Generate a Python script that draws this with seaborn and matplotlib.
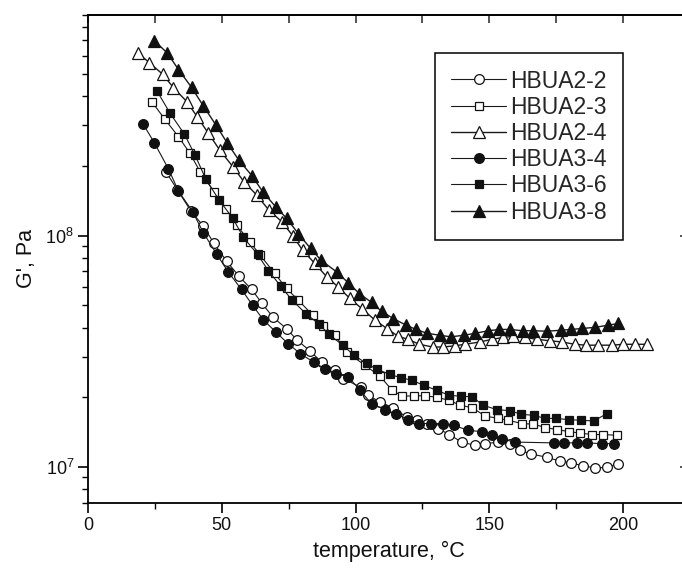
import matplotlib
matplotlib.use("Agg")
import matplotlib.pyplot as plt
from matplotlib.ticker import MultipleLocator, LogLocator, NullFormatter
import numpy as np
import pandas as pd
import seaborn as sns

# temperature (C) and storage modulus G' (Pa, in units of 1e6) per sample
x_hbua2_2 = [29.1, 33.4, 38.4, 43.1, 47.1, 51.8, 56.4, 61.2, 64.9, 69.2, 74.2, 78.2,
             83.0, 87.3, 92.3, 95.4, 101.9, 104.7, 109.1, 114.1, 119.1, 122.9, 126.6,
             131.0, 135.1, 139.6, 144.6, 148.4, 153.4, 157.6, 161.4, 165.4, 171.4,
             176.4, 180.7, 185.1, 189.5, 193.9, 198.2]
g_hbua2_2 = [189, 158, 128, 110, 92.5, 77.6, 66.8, 58.5, 51.2, 44.3, 39.6, 35.3,
             31.7, 28.4, 26.2, 24.1, 22.1, 20.4, 19.1, 18.0, 16.4, 15.9, 15.4,
             14.6, 13.8, 12.8, 12.4, 12.6, 12.8, 12.6, 11.8, 11.4, 11.0,
             10.6, 10.4, 10.1, 9.9, 9.95, 10.3]

x_hbua2_3 = [23.8, 28.8, 33.8, 38.1, 41.9, 47.1, 51.6, 55.6, 60.5, 64.3, 69.8, 74.2,
             78.6, 84.0, 87.9, 92.3, 96.7, 103.5, 109.1, 113.6, 117.5, 121.7, 126.0,
             130.3, 135.0, 139.0, 143.7, 148.4, 153.4, 157.1, 162.1, 166.5, 170.9,
             175.2, 179.9, 183.9, 188.3, 192.6, 197.6]
g_hbua2_3 = [380, 318, 268, 227, 189, 155, 131, 111, 94, 82.5, 68.6, 59.1,
             52.6, 45.3, 40.6, 37.1, 31.4, 27.5, 24.7, 21.5, 20.2, 20.3, 20.3,
             20.0, 19.4, 18.5, 18.0, 16.6, 16.2, 15.9, 15.4, 15.3, 14.8,
             14.5, 14.2, 14.0, 13.8, 13.8, 13.7]

x_hbua2_4 = [18.8, 22.9, 27.9, 31.9, 36.9, 40.8, 45.0, 49.3, 54.1, 58.3, 63.0, 67.6,
             72.4, 76.5, 80.2, 84.8, 89.2, 93.5, 97.9, 102.3, 107.3, 111.8, 115.9,
             119.7, 123.8, 128.8, 132.8, 137.1, 140.9, 146.5, 150.9, 155.2, 159.0,
             163.3, 167.9, 172.7, 177.0, 182.0, 186.1, 190.7, 195.7, 200.1, 204.4,
             208.8]
g_hbua2_4 = [615, 560, 499, 437, 380, 327, 277, 234, 199, 171, 150, 129,
             115, 100, 86.5, 75.8, 66.4, 60.0, 53.5, 48.4, 43.1, 39.6, 36.7,
             35.6, 33.9, 33.0, 33.0, 33.4, 33.9, 34.7, 35.6, 36.3, 36.7,
             36.3, 35.6, 35.1, 34.7, 33.9, 33.6, 33.6, 33.6, 33.9, 33.9,
             33.9]

x_hbua3_4 = [20.6, 24.8, 30.0, 33.8, 39.1, 43.1, 48.1, 52.4, 57.4, 61.5, 65.5, 70.2,
             74.8, 79.3, 84.3, 88.4, 92.8, 97.3, 101.6, 106.0, 111.0, 115.3, 119.7,
             123.8, 128.3, 132.8, 136.8, 142.1, 147.1, 150.9, 154.6, 159.6, 174.1,
             177.9, 182.8, 186.6, 192.0, 196.6]
g_hbua3_4 = [304, 252, 195, 156, 127, 103, 83.2, 69.7, 58.5, 50.0, 43.3, 38.3,
             34.1, 30.9, 28.4, 26.6, 25.3, 24.5, 21.5, 18.7, 17.7, 16.9, 16.0,
             15.4, 15.4, 15.4, 15.1, 14.4, 14.2, 13.7, 13.2, 12.8, 12.7,
             12.7, 12.7, 12.7, 12.6, 12.6]

x_hbua3_6 = [25.7, 30.7, 36.0, 40.0, 44.1, 49.1, 54.1, 58.1, 63.4, 67.4, 72.1, 76.1,
             81.4, 86.4, 90.1, 95.2, 99.4, 104.1, 108.1, 112.9, 116.9, 121.0, 125.6,
             130.5, 135.0, 139.4, 143.7, 147.5, 152.7, 157.6, 161.8, 166.6, 170.9,
             175.1, 179.7, 184.3, 189.0, 194.0]
g_hbua3_6 = [424, 338, 275, 223, 175, 142, 119, 98.2, 83.0, 70.5, 60.4, 52.9,
             46.0, 41.4, 37.4, 33.6, 30.4, 28.0, 26.4, 25.1, 24.3, 23.7, 22.5,
             21.4, 20.4, 20.2, 20.1, 18.5, 17.7, 17.5, 16.9, 16.7, 16.2,
             16.2, 16.0, 15.9, 15.8, 17.0]

x_hbua3_8 = [24.8, 29.7, 33.8, 38.7, 43.1, 47.8, 52.1, 56.4, 61.2, 65.3, 70.2, 74.2,
             78.6, 83.2, 87.1, 92.9, 97.3, 101.4, 106.0, 109.7, 114.1, 118.9, 122.6,
             126.8, 131.5, 135.6, 140.5, 144.6, 149.6, 153.7, 157.7, 162.4, 166.4,
             171.6, 176.7, 180.7, 184.8, 189.4, 194.4, 198.2]
g_hbua3_8 = [697, 615, 523, 438, 364, 301, 251, 212, 182, 155, 133, 119,
             102, 88.0, 78.3, 69.7, 62.5, 56.2, 51.4, 47.1, 43.8, 41.0, 39.3,
             37.8, 37.1, 36.5, 37.1, 37.8, 38.8, 39.3, 39.3, 38.8, 38.8,
             38.6, 39.0, 39.3, 39.7, 40.1, 41.0, 41.7]

samples = ["HBUA2-2", "HBUA2-3", "HBUA2-4", "HBUA3-4", "HBUA3-6", "HBUA3-8"]
x_values = [x_hbua2_2, x_hbua2_3, x_hbua2_4, x_hbua3_4, x_hbua3_6, x_hbua3_8]
g_values = [g_hbua2_2, g_hbua2_3, g_hbua2_4, g_hbua3_4, g_hbua3_6, g_hbua3_8]

# marker, filled?, marker size, line width
styles = {
    "HBUA2-2": ("o", False, 7.0, 0.8),
    "HBUA2-3": ("s", False, 5.8, 0.8),
    "HBUA2-4": ("^", False, 8.2, 1.0),
    "HBUA3-4": ("o", True, 7.0, 0.8),
    "HBUA3-6": ("s", True, 5.8, 0.8),
    "HBUA3-8": ("^", True, 8.2, 1.0),
}

frames = []
for name, xs, gs in zip(samples, x_values, g_values):
    frames.append(pd.DataFrame({"sample": name, "temperature": xs,
                                "G": np.array(gs) * 1e6}))
data = pd.concat(frames, ignore_index=True)

sns.set_theme(style="ticks")
plt.rcParams["font.family"] = ["Liberation Sans", "DejaVu Sans"]
plt.rcParams["mathtext.default"] = "regular"
plt.rcParams["axes.linewidth"] = 1.3

fig = plt.figure(figsize=(6.82, 5.74), dpi=100)
ax = fig.add_axes([88 / 682, 71.3 / 574, 602 / 682, 487.7 / 574])

for name in samples:
    marker, filled, ms, lw = styles[name]
    sns.lineplot(
        data=data[data["sample"] == name], x="temperature", y="G",
        ax=ax, color="#1a1a1a", linewidth=lw, marker=marker,
        markersize=ms, markerfacecolor="#111111" if filled else "white",
        markeredgecolor="#111111", markeredgewidth=0.9,
        errorbar=None, label=name,
    )

ax.set_yscale("log")
ax.set_xlim(0, 225)
ax.set_ylim(7e6, 9e8)

ax.xaxis.set_major_locator(MultipleLocator(50))
ax.xaxis.set_minor_locator(MultipleLocator(25))
ax.yaxis.set_major_locator(LogLocator(base=10))
ax.yaxis.set_minor_locator(LogLocator(base=10, subs=np.arange(2, 10)))
ax.yaxis.set_minor_formatter(NullFormatter())

ax.tick_params(which="major", direction="out", length=7, width=1.2,
               labelsize=13, color="black", labelcolor="#111111")
ax.tick_params(which="minor", direction="out", length=4, width=1.0,
               color="black")
ax.tick_params(axis="x", pad=3)
ax.tick_params(axis="y", pad=3)

# mirrored inward ticks on the top and right spines
top = ax.secondary_xaxis("top")
top.xaxis.set_major_locator(MultipleLocator(25))
top.tick_params(direction="in", length=6, width=1.1, labeltop=False)
right = ax.secondary_yaxis("right")
right.tick_params(which="major", direction="in", length=7, width=1.1,
                  labelright=False)
right.tick_params(which="minor", direction="in", length=4, width=1.0,
                  labelright=False)

for spine in ax.spines.values():
    spine.set_visible(True)
    spine.set_color("black")

ax.set_xlabel("temperature, °C", fontsize=15.5, color="#111111", labelpad=5)
ax.set_ylabel("G', Pa", fontsize=15.5, color="#111111", labelpad=6)

ax.legend(
    loc="upper left", bbox_to_anchor=((435 - 88) / 602, (502.7 - 53) / 487.7),
    borderaxespad=0, frameon=True, fancybox=False, edgecolor="black",
    framealpha=1, fontsize=16.5, handlelength=2.4, handletextpad=0.15,
    labelspacing=0.14, borderpad=0.72,
).get_frame().set_linewidth(1.1)

fig.savefig("out.png", dpi=100)
